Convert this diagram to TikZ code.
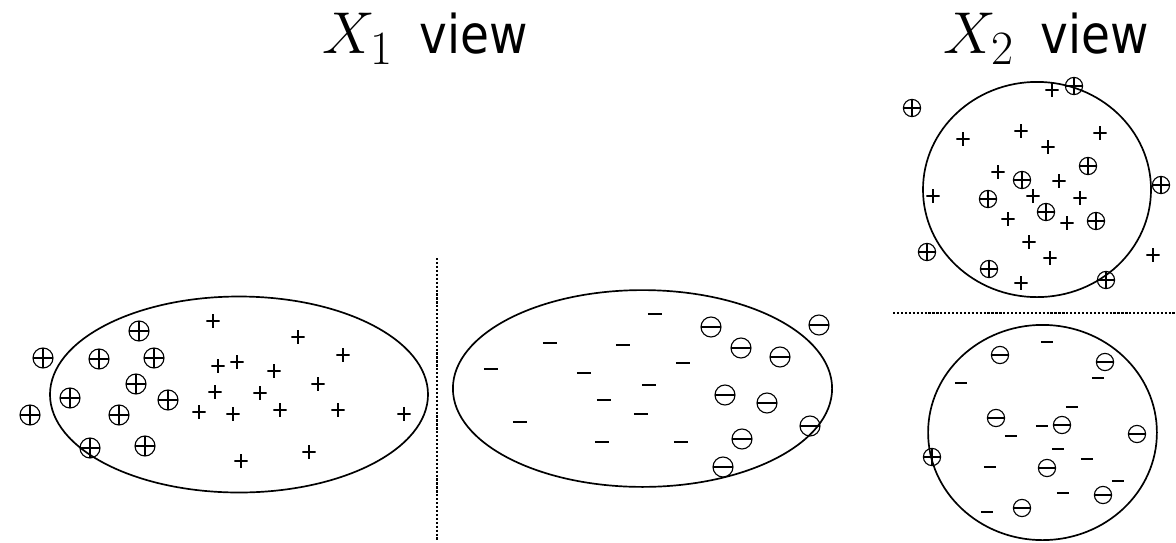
\RequirePackage{fix-cm}
\documentclass[tikz,border=0pt]{standalone}
\usepackage{fontspec}
\newfontfamily\labelsans[FakeStretch=0.88]{DejaVu Sans}
\usetikzlibrary{positioning}
\newcommand{\viewword}{{\labelsans\fontsize{38}{44}\selectfont view}}
\newcommand{\subdigit}[1]{\mbox{\fontsize{34}{40}\selectfont #1}}

\begin{document}
\begin{tikzpicture}[x=0.25mm,y=-0.25mm]
\tikzset{
  viewlabel/.style={anchor=base west,inner sep=0pt,font=\fontsize{42}{50}\selectfont},
  region/.style={line width=1.2pt},
  divider/.style={line width=0.8pt,dash pattern=on 1.6pt off 1.2pt},
  plusmark/.style={minimum size=3.3mm,inner sep=0pt,
    path picture={\draw[line width=0.9pt] (path picture bounding box.north) -- (path picture bounding box.south)
      (path picture bounding box.west) -- (path picture bounding box.east);}},
  minusmark/.style={minimum width=#1,minimum height=1mm,inner sep=0pt,
    path picture={\draw[line width=0.9pt] (path picture bounding box.west) -- (path picture bounding box.east);}},
  minusmark/.default=3.6mm,
  cplus/.style={circle,draw,line width=0.8pt,minimum size=#1,inner sep=0pt,
    path picture={\draw[line width=0.8pt] (path picture bounding box.north) -- (path picture bounding box.south)
      (path picture bounding box.west) -- (path picture bounding box.east);}},
  cplus/.default=5mm,
  cminus/.style={circle,draw,line width=0.8pt,minimum size=#1,inner sep=0pt,
    path picture={\draw[line width=0.8pt] (path picture bounding box.west) -- (path picture bounding box.east);}},
  cminus/.default=5mm
}
\useasboundingbox (0,0) rectangle (1176,542);

% titles
\node[viewlabel] (title_x1) at (322,53) {$X_{\subdigit{1}}$\hspace{0.15em} \viewword};
\node[viewlabel] (title_x2) at (943,53) {$X_{\subdigit{2}}$\hspace{0.15em} \viewword};

% dividers
\coordinate (div_top) at (437,258);
\coordinate (div_bot) at (437,540);
\coordinate (div_left) at (893,313);
\coordinate (div_right) at (1176,313);
\draw[divider] (div_top) -- (div_bot);
\draw[divider] (div_left) -- (div_right);

% regions
\draw[region] (239,394.5) ellipse [x radius=47.25mm,y radius=24.5mm];
\draw[region] (642.5,388.5) ellipse [x radius=47.4mm,y radius=24.6mm];
\draw[region] (1037,189.5) ellipse [x radius=28.5mm,y radius=26.9mm];
\draw[region] (1042.5,432.5) ellipse [x radius=28.6mm,y radius=26.9mm];

% X1 view, positive side
\node[cplus] (cp_1) at (139,331) {};
\node[cplus] (cp_2) at (43,358) {};
\node[cplus] (cp_3) at (99,359) {};
\node[cplus] (cp_4) at (154,358) {};
\node[cplus] (cp_5) at (136,384) {};
\node[cplus] (cp_6) at (70,398) {};
\node[cplus] (cp_7) at (168,400) {};
\node[cplus] (cp_8) at (30,415) {};
\node[cplus] (cp_9) at (119,415) {};
\node[cplus] (cp_10) at (90,448) {};
\node[cplus] (cp_11) at (145,446) {};
\node[plusmark] (p_1) at (213,321) {};
\node[plusmark] (p_2) at (298,337) {};
\node[plusmark] (p_3) at (343,355) {};
\node[plusmark] (p_4) at (218,366) {};
\node[plusmark] (p_5) at (237,362) {};
\node[plusmark] (p_6) at (274,371) {};
\node[plusmark] (p_7) at (318,384) {};
\node[plusmark] (p_8) at (215,392) {};
\node[plusmark] (p_9) at (260,393) {};
\node[plusmark] (p_10) at (199,412) {};
\node[plusmark] (p_11) at (233,414) {};
\node[plusmark] (p_12) at (280,410) {};
\node[plusmark] (p_13) at (338,410) {};
\node[plusmark] (p_14) at (404,414) {};
\node[plusmark] (p_15) at (309,452) {};
\node[plusmark] (p_16) at (241,461) {};

% X1 view, negative side
\node[minusmark] (m_1) at (655,314) {};
\node[minusmark] (m_2) at (550,343) {};
\node[minusmark] (m_3) at (623,345) {};
\node[minusmark] (m_4) at (683,363) {};
\node[minusmark] (m_5) at (491,369) {};
\node[minusmark] (m_6) at (584,373) {};
\node[minusmark] (m_7) at (649,385) {};
\node[minusmark] (m_8) at (604,400) {};
\node[minusmark] (m_9) at (641,414) {};
\node[minusmark] (m_10) at (520,422) {};
\node[minusmark] (m_11) at (602,442) {};
\node[minusmark] (m_12) at (681,442) {};
\node[cminus] (cm_1) at (711,327) {};
\node[cminus] (cm_2) at (819,325) {};
\node[cminus] (cm_3) at (741,348) {};
\node[cminus] (cm_4) at (780,357) {};
\node[cminus] (cm_5) at (725,395) {};
\node[cminus] (cm_6) at (767,403) {};
\node[cminus] (cm_7) at (810,426) {};
\node[cminus] (cm_8) at (742,439) {};
\node[cminus] (cm_9) at (723,467) {};

% X2 view, positive side
\node[cplus=4.3mm] (cp_12) at (1074,86) {};
\node[cplus=4.3mm] (cp_13) at (912,108) {};
\node[cplus=4.3mm] (cp_14) at (1088,166) {};
\node[cplus=4.3mm] (cp_15) at (1022,180) {};
\node[cplus=4.3mm] (cp_16) at (988,199) {};
\node[cplus=4.3mm] (cp_17) at (1161,185) {};
\node[cplus=4.3mm] (cp_18) at (1046,212) {};
\node[cplus=4.3mm] (cp_19) at (1096,221) {};
\node[cplus=4.3mm] (cp_20) at (927,252) {};
\node[cplus=4.3mm] (cp_21) at (989,269) {};
\node[cplus=4.3mm] (cp_22) at (1106,280) {};
\node[plusmark] (p_17) at (1052,90) {};
\node[plusmark] (p_18) at (963,139) {};
\node[plusmark] (p_19) at (1021,131) {};
\node[plusmark] (p_20) at (1100,133) {};
\node[plusmark] (p_21) at (1048,147) {};
\node[plusmark] (p_22) at (998,172) {};
\node[plusmark] (p_23) at (1059,181) {};
\node[plusmark] (p_24) at (933,196) {};
\node[plusmark] (p_25) at (1033,196) {};
\node[plusmark] (p_26) at (1080,198) {};
\node[plusmark] (p_27) at (1008,219) {};
\node[plusmark] (p_28) at (1067,223) {};
\node[plusmark] (p_29) at (1029,242) {};
\node[plusmark] (p_30) at (1050,258) {};
\node[plusmark] (p_31) at (1153,255) {};
\node[plusmark] (p_32) at (1021,283) {};

% X2 view, negative side
\node[cminus=4.3mm] (cm_10) at (1000,355) {};
\node[cminus=4.3mm] (cm_11) at (1105,362) {};
\node[cminus=4.3mm] (cm_12) at (996,418) {};
\node[cminus=4.3mm] (cm_13) at (1062,425) {};
\node[cminus=4.3mm] (cm_14) at (1137,434) {};
\node[cminus=4.3mm] (cm_15) at (1047,468) {};
\node[cminus=4.3mm] (cm_16) at (1103,495) {};
\node[cminus=4.3mm] (cm_17) at (1022,508) {};
\node[cplus=4.3mm] (cp_23) at (932,457) {};
\node[minusmark=3.1mm] (m_13) at (1047,342) {};
\node[minusmark=3.1mm] (m_14) at (961,383) {};
\node[minusmark=3.1mm] (m_15) at (1098,378) {};
\node[minusmark=3.1mm] (m_16) at (1072,407) {};
\node[minusmark=3.1mm] (m_17) at (1042,426) {};
\node[minusmark=3.1mm] (m_18) at (1011,436) {};
\node[minusmark=3.1mm] (m_19) at (1058,449) {};
\node[minusmark=3.1mm] (m_20) at (990,467) {};
\node[minusmark=3.1mm] (m_21) at (1087,459) {};
\node[minusmark=3.1mm] (m_22) at (1118,481) {};
\node[minusmark=3.1mm] (m_23) at (1063,493) {};
\node[minusmark=3.1mm] (m_24) at (987,512) {};
\end{tikzpicture}
\end{document}
